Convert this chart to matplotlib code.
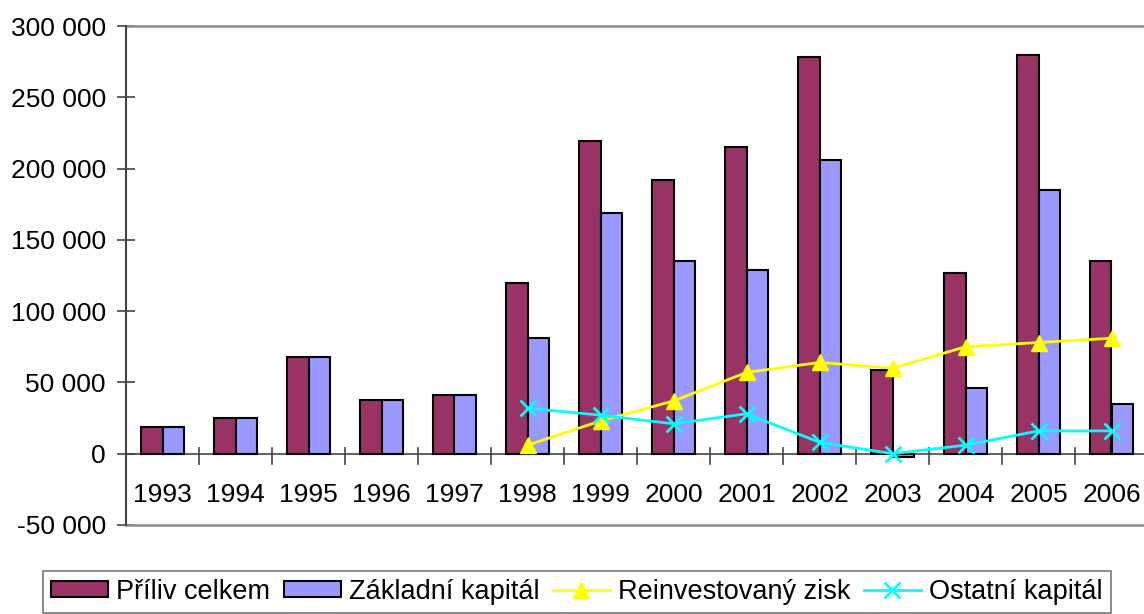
import matplotlib
matplotlib.use("Agg")
import matplotlib.pyplot as plt
import numpy as np

years = ["1993", "1994", "1995", "1996", "1997", "1998", "1999", "2000",
         "2001", "2002", "2003", "2004", "2005", "2006"]
priliv = [19000, 25000, 68000, 38000, 41000, 120000, 219000, 192000,
          215000, 278000, 59000, 127000, 280000, 135000]
zakladni = [19000, 25000, 68000, 38000, 41000, 81000, 169000, 135000,
            129000, 206000, -2000, 46000, 185000, 35000]
reinv_years = years[5:]
reinvest = [6000, 23000, 37000, 57000, 64000, 60000, 75000, 78000, 81000]
ostatni = [32000, 27000, 21000, 28000, 8000, 0, 6000, 16000, 16000]

yticks = [-50000, 0, 50000, 100000, 150000, 200000, 250000, 300000]

plt.rcParams['font.family'] = ['Liberation Sans', 'DejaVu Sans']
FS = 19

fig = plt.figure(figsize=(11.44, 6.14), dpi=100)
L = 126
ax = fig.add_axes([L/1144, (614-525)/614, 1022/1144, (525-26)/614])

x = np.arange(len(years))
w = 0.29
ax.bar(x - w/2, priliv, w, color="#993366", edgecolor="black", linewidth=1.5,
       label="Příliv celkem", zorder=2)
ax.bar(x + w/2, zakladni, w, color="#9999FF", edgecolor="black", linewidth=1.5,
       label="Základní kapitál", zorder=2)
xr = np.array([years.index(y) for y in reinv_years])
ax.plot(xr, reinvest, color="#FFFF00", linewidth=2, marker="^", markersize=11,
        markerfacecolor="#FFFF00", markeredgecolor="#FFFF00",
        label="Reinvestovaný zisk", zorder=3)
ax.plot(xr, ostatni, color="#00FFFF", linewidth=2, marker="x", markersize=11,
        markeredgewidth=2, label="Ostatní kapitál", zorder=3)

ax.set_xlim(-0.5, len(years) - 0.5)
ax.set_ylim(-50000, 300000)
ax.set_yticks(yticks)
ax.set_yticklabels([f"{v:,}".replace(",", " ") for v in yticks], fontsize=FS)
ax.tick_params(axis="y", direction="inout", length=13, width=1.2, color="#444444", pad=8)
ax.set_xticks([])
ax.spines["right"].set_visible(False)
for s in ["top", "bottom"]:
    ax.spines[s].set_color("#8c8c8c")
    ax.spines[s].set_linewidth(1.8)
ax.spines["left"].set_color("#444444")
ax.spines["left"].set_linewidth(1.5)
ax.spines["left"].set_zorder(4)

# category axis at zero
ax.axhline(0, color="#666666", linewidth=1.5, zorder=1)
for b in np.arange(0.5, len(years) - 0.5, 1.0):
    ax.plot([b, b], [4000, -7000], color="#444444", linewidth=1.2, zorder=1)
for xi, yl in zip(x, years):
    ax.text(xi, -29000, yl, ha="center", va="center", fontsize=FS, clip_on=False)

handles, labels = ax.get_legend_handles_labels()
order = [labels.index(n) for n in ["Příliv celkem", "Základní kapitál",
                                     "Reinvestovaný zisk", "Ostatní kapitál"]]
handles = [handles[i] for i in order]
labels = [labels[i] for i in order]
leg = fig.legend(handles, labels, loc="lower left", bbox_to_anchor=(43/1144, 1/614), ncol=4,
                 frameon=True, fancybox=False, edgecolor="#555555", fontsize=19.5,
                 handlelength=2.1, handleheight=0.55, handletextpad=0.3,
                 columnspacing=0.5, borderpad=0.3, borderaxespad=0)
leg.get_frame().set_linewidth(1.2)

fig.savefig("out.png", dpi=100)
